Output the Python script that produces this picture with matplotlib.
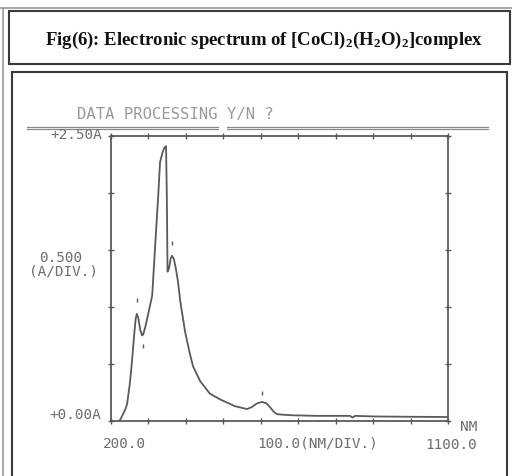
import matplotlib
matplotlib.use("Agg")
import matplotlib.pyplot as plt
from matplotlib.lines import Line2D
from matplotlib.patches import Rectangle

# spectrum (nm, absorbance)
wavelength = [222, 226, 232, 238, 243, 250, 256, 262, 266, 269, 273, 278, 283,
              286, 292, 300, 310, 318, 326, 331, 338, 343, 347, 349, 351, 355,
              359, 363, 368, 373, 379, 385, 398, 410, 419, 438, 464, 491, 531,
              550, 563, 575, 590, 603, 615, 625, 635, 643, 660, 686, 750, 838,
              845, 852, 900, 1000, 1100]
absorbance = [0.0, 0.02, 0.06, 0.1, 0.15, 0.32, 0.52, 0.76, 0.9, 0.94, 0.9,
              0.8, 0.75, 0.76, 0.83, 0.95, 1.10, 1.54, 1.97, 2.27, 2.36, 2.40,
              2.41, 2.0, 1.31, 1.34, 1.42, 1.45, 1.42, 1.34, 1.22, 1.05, 0.78,
              0.6, 0.48, 0.35, 0.24, 0.19, 0.13, 0.115, 0.105, 0.12, 0.155,
              0.167, 0.155, 0.12, 0.08, 0.06, 0.055, 0.05, 0.045, 0.045, 0.03,
              0.045, 0.04, 0.037, 0.035]

# little peak pick marks printed by the instrument
peak_nm = [269, 286, 363, 603]
peak_mark_a = [1.06, 0.66, 1.56, 0.25]

xticks = [200, 300, 400, 500, 600, 700, 800, 900, 1000, 1100]
yticks = [0.0, 0.5, 1.0, 1.5, 2.0, 2.5]

W, H = 512, 477
ink = "#5a5a5a"
faint = "#9a9a9a"


def fx(px):
    return px / W


def fy(py):
    return 1 - py / H


fig = plt.figure(figsize=(W / 100, H / 100), dpi=100)
fig.patch.set_facecolor("white")

# page frames
fig.add_artist(Line2D([0, 1], [fy(9), fy(9)], color="#999999", lw=1.2))
fig.add_artist(Line2D([fx(3), fx(3)], [0, fy(9)], color="#999999", lw=1.2))
fig.add_artist(Rectangle((fx(9), fy(65)), fx(501), 53 / H, fill=False,
                         ec="#3a3a3a", lw=1.5))
fig.add_artist(Rectangle((fx(12), fy(480)), fx(495), 407 / H, fill=False,
                         ec="#3a3a3a", lw=1.5))

plt.rcParams["mathtext.fontset"] = "custom"
plt.rcParams["mathtext.rm"] = "Liberation Serif:bold"
plt.rcParams["mathtext.it"] = "Liberation Serif:bold"
fig.text(fx(264), fy(40),
         r"Fig(6): Electronic spectrum of [CoCl)$_2$(H$_2$O)$_2$]complex",
         ha="center", va="center", family="Liberation Serif",
         weight="bold", size=13.5, color="#111111")

# ── spectrum panel ──────────────────────────────────────────────
ax = fig.add_axes([fx(111), fy(422), fx(337), 285 / H])
ax.plot(wavelength, absorbance, color=ink, lw=1.3)
ax.scatter(peak_nm, peak_mark_a, marker="|", s=12, color=ink, lw=1)
ax.set_xlim(200, 1100)
ax.set_ylim(0, 2.5)
ax.set_xticks(xticks)
ax.set_yticks(yticks)
ax.tick_params(axis="both", direction="inout", length=5, width=1,
               color=ink, labelbottom=False, labelleft=False,
               top=True, right=True)
for sp in ax.spines.values():
    sp.set_color(ink)
    sp.set_linewidth(1.3)

mono = dict(family="DejaVu Sans Mono", color="#6e6e6e", size=10.4)

fig.text(fx(175), fy(115), "DATA PROCESSING Y/N ?", ha="center",
         va="center", family="DejaVu Sans Mono", color=faint, size=11.2)
for x0, x1 in [(27, 218), (227, 488)]:
    for yy in (127.5, 130):
        fig.add_artist(Line2D([fx(x0), fx(x1)], [fy(yy), fy(yy)],
                              color="#8a8a8a", lw=0.9))

fig.text(fx(102), fy(135), "+2.50A", ha="right", va="center", **mono)
fig.text(fx(61), fy(258), "0.500", ha="center", va="center", **mono)
fig.text(fx(63), fy(272), "(A/DIV.)", ha="center", va="center", **mono)
fig.text(fx(101), fy(415), "+0.00A", ha="right", va="center", **mono)
fig.text(fx(124), fy(444), "200.0", ha="center", va="center", **mono)
fig.text(fx(318), fy(444), "100.0(NM/DIV.)", ha="center", va="center", **mono)
fig.text(fx(477), fy(445), "1100.0", ha="right", va="center", **mono)
fig.text(fx(477), fy(427), "NM", ha="right", va="center", **mono)

fig.savefig("out.png", dpi=100, facecolor="white")
